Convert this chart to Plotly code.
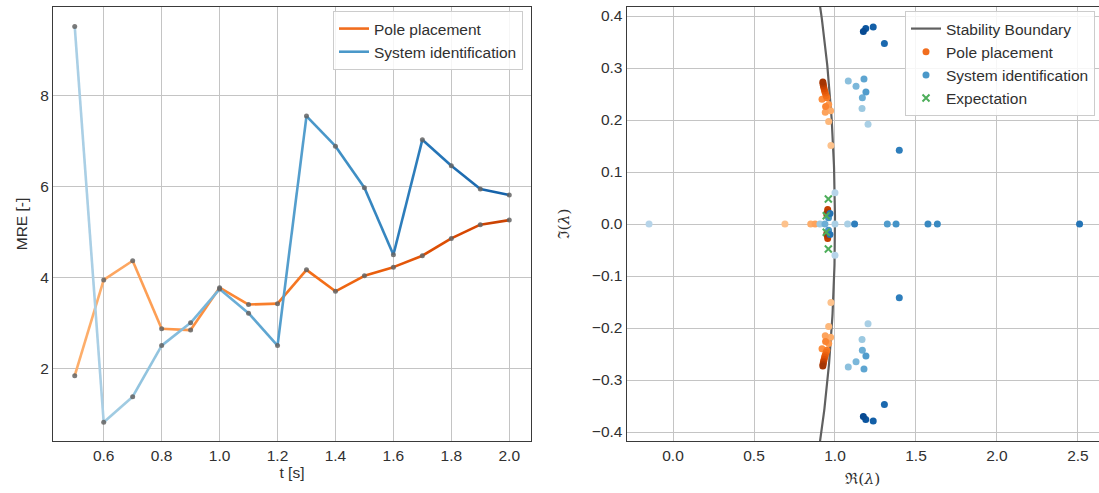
import numpy as np
import plotly.graph_objects as go
from plotly.colors import sample_colorscale

# ---------------- data: left panel (MRE over time) ----------------
t_vals = [0.5, 0.6, 0.7, 0.8, 0.9, 1.0, 1.1, 1.2, 1.3, 1.4, 1.5, 1.6, 1.7, 1.8, 1.9, 2.0]
mre_pole = [1.85, 3.95, 4.37, 2.88, 2.85, 3.78, 3.41, 3.43, 4.17, 3.70, 4.04, 4.23, 4.48, 4.86, 5.16, 5.26]
mre_sysid = [9.50, 0.83, 1.39, 2.51, 3.01, 3.75, 3.22, 2.51, 7.54, 6.88, 5.97, 4.50, 7.02, 6.45, 5.94, 5.81]

# ---------------- data: right panel (eigenvalues) ----------------
pp_re = [0.691, 0.975, 0.975, 0.961, 0.961, 0.973, 0.973, 0.850, 0.940, 0.940, 0.877,
         0.961, 0.961, 0.920, 0.920, 0.942, 0.942, 0.950, 0.950, 0.945, 0.945,
         0.940, 0.940, 0.936, 0.936, 0.933, 0.933, 0.930, 0.930, 0.928, 0.928,
         0.926, 0.926, 0.925, 0.925, 0.955, 0.955, 0.952, 0.952, 0.950, 0.950]
pp_im = [0.0, 0.151, -0.151, 0.197, -0.197, 0.218, -0.218, 0.0, 0.215, -0.215, 0.0,
         0.230, -0.230, 0.240, -0.240, 0.226, -0.226, 0.243, -0.243, 0.247, -0.247,
         0.252, -0.252, 0.256, -0.256, 0.260, -0.260, 0.264, -0.264, 0.267, -0.267,
         0.270, -0.270, 0.273, -0.273, 0.028, -0.028, 0.022, -0.022, 0.018, -0.018]
pp_t = [0.5, 0.5, 0.5, 0.6, 0.6, 0.7, 0.7, 0.7, 0.8, 0.8, 0.8,
        0.9, 0.9, 1.0, 1.0, 1.1, 1.1, 1.2, 1.2, 1.3, 1.3,
        1.4, 1.4, 1.5, 1.5, 1.6, 1.6, 1.7, 1.7, 1.8, 1.8,
        1.9, 1.9, 2.0, 2.0, 1.8, 1.8, 1.9, 1.9, 2.0, 2.0]

si_re = [-0.148, 1.000, 1.000, 1.000, 1.078, 1.204, 1.204, 1.167, 1.167, 0.907,
         1.082, 1.082, 1.130, 1.130, 1.169, 1.169, 0.938, 1.179, 1.179,
         1.191, 1.191, 1.323, 1.377, 0.960, 0.960, 1.574, 1.632,
         1.121, 1.397, 1.397, 2.510, 0.969, 0.969,
         1.305, 1.305, 1.236, 1.236, 1.190, 1.190, 1.175, 1.175]
si_im = [0.0, 0.060, -0.060, 0.0, 0.0, 0.192, -0.192, 0.222, -0.222, 0.0,
         0.275, -0.275, 0.265, -0.265, 0.243, -0.243, 0.0, 0.279, -0.279,
         0.254, -0.254, 0.0, 0.0, 0.012, -0.012, 0.0, 0.0,
         0.0, 0.142, -0.142, 0.0, 0.020, -0.020,
         0.347, -0.347, 0.379, -0.379, 0.376, -0.376, 0.370, -0.370]
si_t = [0.5, 0.5, 0.5, 0.6, 0.6, 0.6, 0.6, 0.7, 0.7, 0.7,
        0.8, 0.8, 0.9, 0.9, 1.0, 1.0, 1.0, 1.1, 1.1,
        1.2, 1.2, 1.2, 1.3, 1.3, 1.3, 1.4, 1.4,
        1.5, 1.5, 1.5, 1.6, 1.6, 1.6,
        1.7, 1.7, 1.8, 1.8, 1.9, 1.9, 2.0, 2.0]

exp_re = [0.959, 0.946, 0.946, 0.959]
exp_im = [0.048, 0.016, -0.016, -0.048]

# ---------------- styling ----------------
FONT = "Liberation Sans, Arial, sans-serif"
FS = 15.5
TXT = "#303030"
GRID = "#c4c4c4"
FRAME = "#3a3a3a"
POLE_LEG = "#f16d1e"
SYS_LEG = "#4a98c9"
EXP_COL = "#4eae5b"
BOUND_COL = "#606060"


def cmap(scale, tv, lo, hi):
    tmin, tmax = min(t_vals), max(t_vals)
    pos = [lo + (v - tmin) / (tmax - tmin) * (hi - lo) for v in tv]
    return sample_colorscale(scale, pos)


fig = go.Figure()

# left: coloured line segments
n = len(t_vals)
seg_mid = [(t_vals[i] + t_vals[i + 1]) / 2 for i in range(n - 1)]
pole_cols = cmap("Oranges", seg_mid, 0.36, 0.80)
sys_cols = cmap("Blues", seg_mid, 0.32, 0.82)
for i in range(n - 1):
    fig.add_trace(go.Scatter(x=t_vals[i:i + 2], y=mre_pole[i:i + 2], mode="lines",
                             line=dict(color=pole_cols[i], width=2.6),
                             showlegend=False, hoverinfo="skip",
                             xaxis="x", yaxis="y"))
for i in range(n - 1):
    fig.add_trace(go.Scatter(x=t_vals[i:i + 2], y=mre_sysid[i:i + 2], mode="lines",
                             line=dict(color=sys_cols[i], width=2.6),
                             showlegend=False, hoverinfo="skip",
                             xaxis="x", yaxis="y"))
for ys in (mre_pole, mre_sysid):
    fig.add_trace(go.Scatter(x=t_vals, y=ys, mode="markers",
                             marker=dict(color="rgba(100,100,100,0.85)", size=5),
                             showlegend=False, hoverinfo="skip",
                             xaxis="x", yaxis="y"))
# left legend entries
fig.add_trace(go.Scatter(x=[None], y=[None], mode="lines", name="Pole placement",
                         line=dict(color=POLE_LEG, width=2.6), legend="legend",
                         xaxis="x", yaxis="y"))
fig.add_trace(go.Scatter(x=[None], y=[None], mode="lines", name="System identification",
                         line=dict(color=SYS_LEG, width=2.6), legend="legend",
                         xaxis="x", yaxis="y"))

# right: stability boundary (unit circle)
theta = np.linspace(-0.46, 0.46, 200)
fig.add_trace(go.Scatter(x=np.cos(theta), y=np.sin(theta), mode="lines",
                         name="Stability Boundary", line=dict(color=BOUND_COL, width=2.2),
                         legend="legend2", xaxis="x2", yaxis="y2"))
fig.add_trace(go.Scatter(x=pp_re, y=pp_im, mode="markers", showlegend=False,
                         marker=dict(color=cmap("Oranges", pp_t, 0.30, 0.88), size=7),
                         xaxis="x2", yaxis="y2"))
fig.add_trace(go.Scatter(x=si_re, y=si_im, mode="markers", showlegend=False,
                         marker=dict(color=cmap("Blues", si_t, 0.30, 0.90), size=7),
                         xaxis="x2", yaxis="y2"))
fig.add_trace(go.Scatter(x=exp_re, y=exp_im, mode="markers", showlegend=False,
                         marker=dict(color=EXP_COL, size=7, symbol="x-thin",
                                     line=dict(color=EXP_COL, width=2)),
                         xaxis="x2", yaxis="y2"))
# right legend entries
fig.add_trace(go.Scatter(x=[None], y=[None], mode="markers", name="Pole placement",
                         marker=dict(color=POLE_LEG, size=7), legend="legend2",
                         xaxis="x2", yaxis="y2"))
fig.add_trace(go.Scatter(x=[None], y=[None], mode="markers", name="System identification",
                         marker=dict(color=SYS_LEG, size=7), legend="legend2",
                         xaxis="x2", yaxis="y2"))
fig.add_trace(go.Scatter(x=[None], y=[None], mode="markers", name="Expectation",
                         marker=dict(color=EXP_COL, size=7, symbol="x-thin",
                                     line=dict(color=EXP_COL, width=2)),
                         legend="legend2", xaxis="x2", yaxis="y2"))

W, H = 1099, 493
ML, MR, MT, MB = 53, 0, 7, 52
pw = W - ML - MR
ph = H - MT - MB

axis_common = dict(showgrid=True, gridcolor=GRID, gridwidth=1, zeroline=False,
                   showline=True, linecolor=FRAME, linewidth=1.3, ticks="",
                   tickfont=dict(family=FONT, size=FS, color=TXT))

leg_common = dict(font=dict(family=FONT, size=FS, color=TXT), bgcolor="rgba(255,255,255,0.85)",
                  bordercolor="#cccccc", borderwidth=1, xanchor="right", yanchor="top",
                  tracegroupgap=0, itemwidth=30)

fig.update_layout(
    width=W, height=H,
    margin=dict(l=ML, r=MR, t=MT, b=MB),
    paper_bgcolor="white", plot_bgcolor="white",
    font=dict(family=FONT, size=FS, color=TXT),
    xaxis=dict(domain=[0, (531 - ML) / pw], range=[0.425, 2.075], tick0=0.6, dtick=0.2,
               tickformat=".1f", mirror=True, anchor="y",
               title=dict(text="t [s]", standoff=2, font=dict(family=FONT, size=FS, color=TXT)),
               **axis_common),
    yaxis=dict(domain=[0, 1], range=[0.42, 9.93], tick0=2, dtick=2, mirror=True, anchor="x",
               title=dict(text="MRE [-]", standoff=8, font=dict(family=FONT, size=FS, color=TXT)),
               **axis_common),
    xaxis2=dict(domain=[(626.7 - ML) / pw, 1], range=[-0.286, 2.630], tick0=0, dtick=0.5,
                tickformat=".1f", mirror=True, anchor="y2",
                title=dict(text="ℜ(<i>λ</i>)", standoff=10,
                           font=dict(family="DejaVu Serif, serif", size=FS, color=TXT)),
                **axis_common),
    yaxis2=dict(domain=[0, 1], range=[-0.4173, 0.4173], tick0=0, dtick=0.1, tickformat=".1f",
                mirror=False, anchor="x2",
                title=dict(text="ℑ(<i>λ</i>)", standoff=18,
                           font=dict(family="DejaVu Serif, serif", size=FS, color=TXT)),
                **axis_common),
    legend=dict(x=(523 - ML) / pw, y=(441 - 11) / ph, **leg_common),
    legend2=dict(x=(1095 - ML) / pw, y=(441 - 11) / ph, **leg_common),
    showlegend=True,
)

fig.write_html("out.html")
